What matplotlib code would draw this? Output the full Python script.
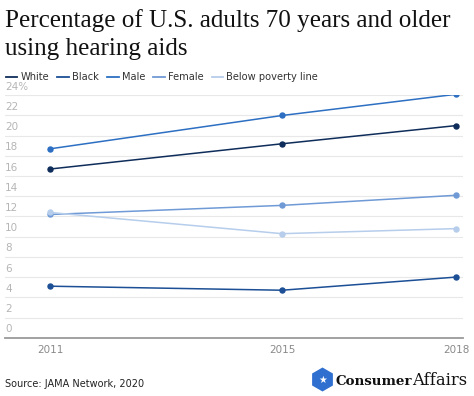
import matplotlib
matplotlib.use("Agg")
import matplotlib.pyplot as plt
from matplotlib.lines import Line2D
from matplotlib.patches import RegularPolygon
from matplotlib.transforms import blended_transform_factory

years = [2011, 2015, 2018]
white = [16.7, 19.2, 21.0]
black = [5.1, 4.7, 6.0]
male = [18.7, 22.0, 24.1]
female = [12.2, 13.1, 14.1]
poverty = [12.4, 10.3, 10.8]

series_names = ["White", "Black", "Male", "Female", "Below poverty line"]
series_colors = ["#0f2d5a", "#1c4f95", "#2d6fc2", "#6f9ad6", "#b6cdeb"]
y_ticks = [0, 2, 4, 6, 8, 10, 12, 14, 16, 18, 20, 22, 24]
y_tick_labels = [str(t) for t in y_ticks[:-1]] + ["24%"]

fig = plt.figure(figsize=(4.74, 3.96), dpi=100)
ax = fig.add_axes([5 / 474, (396 - 337.7) / 396, 458 / 474, 242.4 / 396])

for values, color in zip([white, black, male, female, poverty], series_colors):
    ax.plot(years, values, color=color, lw=1.1, marker="o", ms=3.6,
            solid_capstyle="round", zorder=3)

ax.set_xlim(2011 - 45 / 58, 2018 + 7 / 58)
ax.set_ylim(0, 24)
ax.set_yticks(y_ticks)
ax.set_yticklabels([])
ax.tick_params(axis="y", length=0)
ax.grid(axis="y", color="#e8e8e8", lw=0.8)
ax.set_axisbelow(True)
for side in ["top", "right", "left"]:
    ax.spines[side].set_visible(False)
ax.spines["bottom"].set_color("#9a9a9a")
ax.spines["bottom"].set_linewidth(1.3)

ax.set_xticks(years)
ax.set_xticklabels([str(y) for y in years], color="#8a8a8a", fontsize=7.5)
ax.tick_params(axis="x", length=0, pad=5)

# y labels sit inside the plot, just above each gridline
trans = blended_transform_factory(ax.transAxes, ax.transData)
for t, lab in zip(y_ticks, y_tick_labels):
    ax.text(0.0, t + 0.35, lab, transform=trans, ha="left", va="bottom",
            fontsize=7.5, color="#b5b5b5")

fig.text(5 / 474, 1 - 27 / 396, "Percentage of U.S. adults 70 years and older",
         family="Liberation Serif", fontsize=18.1, color="#111111", va="baseline")
fig.text(5 / 474, 1 - 55 / 396, "using hearing aids",
         family="Liberation Serif", fontsize=18.1, color="#111111", va="baseline")

handles = [Line2D([], [], color=c, lw=1.3) for c in series_colors]
fig.legend(handles, series_names, loc="upper left", ncol=5,
           bbox_to_anchor=(2 / 474, 1 - 68.5 / 396), frameon=False,
           fontsize=7.1, handlelength=1.17, handletextpad=0.3,
           columnspacing=0.85, labelcolor="#333333", borderaxespad=0)

fig.text(5 / 474, 1 - 387 / 396, "Source: JAMA Network, 2020",
         fontsize=7, color="#222222", va="baseline")

# ConsumerAffairs logo
hexagon = RegularPolygon((322.5 / 100, (396 - 379.5) / 100), numVertices=6,
                         radius=0.12, orientation=0, facecolor="#2f6fcf",
                         edgecolor="none", transform=fig.dpi_scale_trans)
fig.patches.append(hexagon)
fig.text(322.5 / 474, 1 - 380 / 396, "\u2605", color="white", fontsize=7,
         ha="center", va="center")
t1 = fig.text(336 / 474, 1 - 385 / 396, "Consumer", family="DejaVu Serif",
              weight="heavy", fontsize=9.6, color="#111111", va="baseline")
fig.canvas.draw()
bb = t1.get_window_extent()
fig.text(bb.x1 / 474, 1 - 385 / 396, "Affairs", family="DejaVu Serif",
         fontsize=11.8, color="#111111", va="baseline")

fig.savefig("out.png", dpi=100)
